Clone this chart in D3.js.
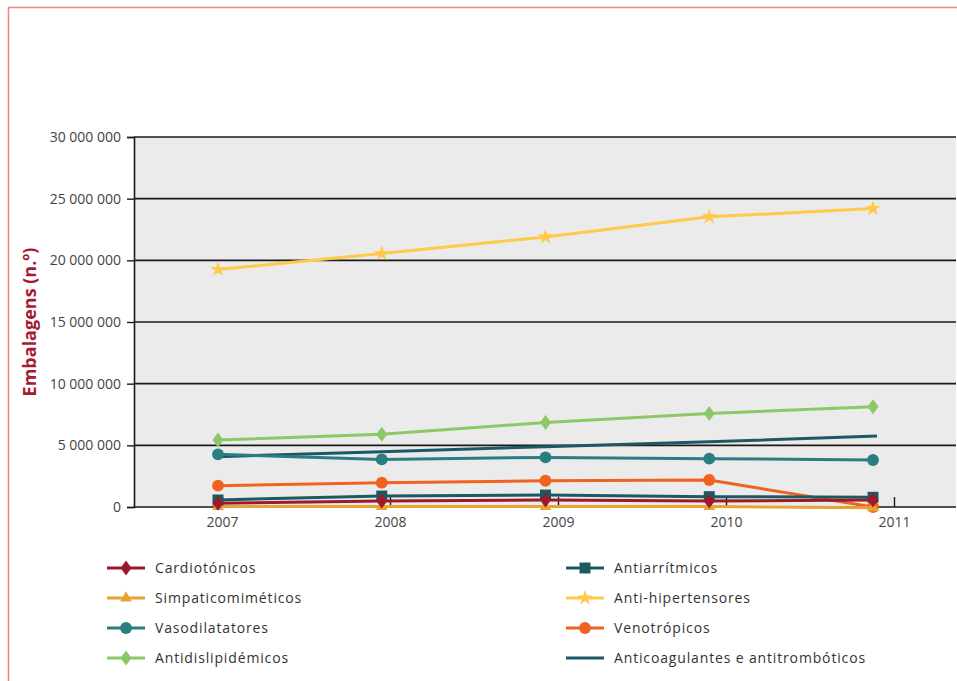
<!DOCTYPE html>
<html>
<head>
<meta charset="utf-8">
<script src="https://cdn.jsdelivr.net/npm/d3@7"></script>
<style>
  body { margin: 0; background: #fff; }
  svg { display: block; font-family: "Open Sans", sans-serif; }
</style>
</head>
<body>
<div id="chart"></div>
<script>
// data
const years = [2007, 2008, 2009, 2010, 2011];
const yTicks = [0, 5000000, 10000000, 15000000, 20000000, 25000000, 30000000];

const cardiotonicos      = [300000, 490000, 570000, 490000, 570000];
const simpaticomimeticos = [40000, 40000, 40000, 40000, -60000];
const vasodilatatores    = [4270000, 3860000, 4020000, 3920000, 3810000];
const antidislipidemicos = [5430000, 5890000, 6860000, 7590000, 8130000];
const antiarritmicos     = [570000, 890000, 970000, 840000, 790000];
const antiHipertensores  = [19260000, 20560000, 21900000, 23530000, 24200000];
const venotropicos       = [1730000, 1970000, 2130000, 2190000, 0];
const anticoagulantes    = [4080000, 4480000, 4890000, 5290000, 5750000];

const series = [
    { name: 'Anticoagulantes e antitrombóticos', values: anticoagulantes, color: '#1d5866', marker: null, col: 1, row: 3 },
    { name: 'Vasodilatatores', values: vasodilatatores, color: '#2a7d80', marker: 'circle', col: 0, row: 2 },
    { name: 'Antidislipidémicos', values: antidislipidemicos, color: '#8dc868', marker: 'diamond', col: 0, row: 3 },
    { name: 'Anti-hipertensores', values: antiHipertensores, color: '#ffc94a', marker: 'star', col: 1, row: 1 },
    { name: 'Venotrópicos', values: venotropicos, color: '#f0621f', marker: 'circle', col: 1, row: 2 },
    { name: 'Simpaticomiméticos', values: simpaticomimeticos, color: '#e6a434', marker: 'triangle', col: 0, row: 1 },
    { name: 'Antiarrítmicos', values: antiarritmicos, color: '#1b5a60', marker: 'square', col: 1, row: 0 },
    { name: 'Cardiotónicos', values: cardiotonicos, color: '#9c1a2c', marker: 'diamond', col: 0, row: 0 },
];

const W = 957, H = 681;
const plot = { left: 134, right: 956, top: 137, bottom: 507 };

const svg = d3.select('#chart').append('svg')
    .attr('width', W)
    .attr('height', H);

// frame
svg.append('path')
    .attr('d', `M8.5,${H}V7.5H${W}`)
    .attr('fill', 'none')
    .attr('stroke', '#df8b82')
    .attr('stroke-width', 1.5);

const y = d3.scaleLinear().domain([0, 30000000]).range([plot.bottom, plot.top]);
// labels sit a little right of the markers in the original
const xLabel = d3.scaleLinear().domain([2007, 2011]).range([222, 894]);
const xPt = d3.scaleLinear().domain([2007, 2011]).range([218, 873]);

// background
svg.append('rect')
    .attr('x', plot.left).attr('y', plot.top)
    .attr('width', plot.right - plot.left).attr('height', plot.bottom - plot.top)
    .attr('fill', '#ebebeb');

// grid
svg.append('g').selectAll('line')
    .data(yTicks)
    .join('line')
    .attr('x1', plot.left).attr('x2', plot.right)
    .attr('y1', d => y(d)).attr('y2', d => y(d))
    .attr('stroke', '#1a1a1a')
    .attr('stroke-width', 1.6);

// y axis
const fmt = d => d3.format(',')(d).replace(/,/g, ' ');
const yAxis = svg.append('g')
    .attr('transform', `translate(${plot.left},0)`)
    .call(d3.axisLeft(y).tickValues(yTicks).tickFormat(fmt).tickSize(7).tickPadding(6));
yAxis.select('.domain').attr('stroke', '#1a1a1a').attr('stroke-width', 1.6);
yAxis.selectAll('.tick line').attr('stroke', '#1a1a1a').attr('stroke-width', 1.4);
yAxis.selectAll('.tick text')
    .attr('fill', '#444')
    .style('font-size', '14px')
    .style('font-family', '"Open Sans", sans-serif');

// x axis
const xAxis = svg.append('g')
    .attr('transform', `translate(0,${plot.bottom})`)
    .call(d3.axisTop(xLabel).tickValues(years).tickFormat(d3.format('d')).tickSize(10));
xAxis.select('.domain').remove();
xAxis.selectAll('.tick line').attr('stroke', '#1a1a1a').attr('stroke-width', 1.4);
xAxis.selectAll('.tick text')
    .attr('y', 20)
    .attr('fill', '#444')
    .style('font-size', '14px')
    .style('font-family', '"Open Sans", sans-serif');

// y title
svg.append('text')
    .attr('transform', `translate(36,322) rotate(-90)`)
    .attr('text-anchor', 'middle')
    .attr('fill', '#a51c30')
    .style('font-size', '18px')
    .style('font-weight', 'bold')
    .text('Embalagens (n.º)');

function markerPath(type) {
    if (type === 'diamond') return 'M0,-7.5L5.5,0L0,7.5L-5.5,0Z';
    if (type === 'circle') return d3.symbol(d3.symbolCircle, 110)();
    if (type === 'square') return d3.symbol(d3.symbolSquare, 120)();
    if (type === 'star') return d3.symbol(d3.symbolStar, 75)();
    if (type === 'triangle') return d3.symbol(d3.symbolTriangle, 60)();
    return null;
}

const line = d3.line()
    .x((d, i) => xPt(years[i]))
    .y(d => y(d));

series.forEach(s => {
    const g = svg.append('g');
    g.append('path')
        .attr('d', s.marker ? line(s.values) : d3.line().x((d, i) => xPt(years[i]) + (i === years.length - 1 ? 4 : 0)).y(d => y(d))(s.values))
        .attr('fill', 'none')
        .attr('stroke', s.color)
        .attr('stroke-width', 3);
    if (s.marker) {
        g.selectAll('path.m')
            .data(s.values)
            .join('path')
            .attr('class', 'm')
            .attr('transform', (d, i) => `translate(${xPt(years[i])},${y(d)})`)
            .attr('d', markerPath(s.marker))
            .attr('fill', s.color);
    }
});

// legend
const legendX = [107, 566];
const legendY0 = 568, legendStep = 30;
const legend = svg.append('g');
series.forEach(s => {
    const lx = legendX[s.col], ly = legendY0 + s.row * legendStep;
    const g = legend.append('g').attr('transform', `translate(${lx},${ly})`);
    g.append('line')
        .attr('x1', 0).attr('x2', 38)
        .attr('stroke', s.color)
        .attr('stroke-width', 3);
    if (s.marker) {
        g.append('path')
            .attr('transform', 'translate(19,0)')
            .attr('d', markerPath(s.marker))
            .attr('fill', s.color);
    }
    g.append('text')
        .attr('x', 48)
        .attr('dy', '0.35em')
        .attr('fill', '#333')
        .style('font-size', '14px')
        .style('letter-spacing', '0.85px')
        .text(s.name);
});
</script>
</body>
</html>
